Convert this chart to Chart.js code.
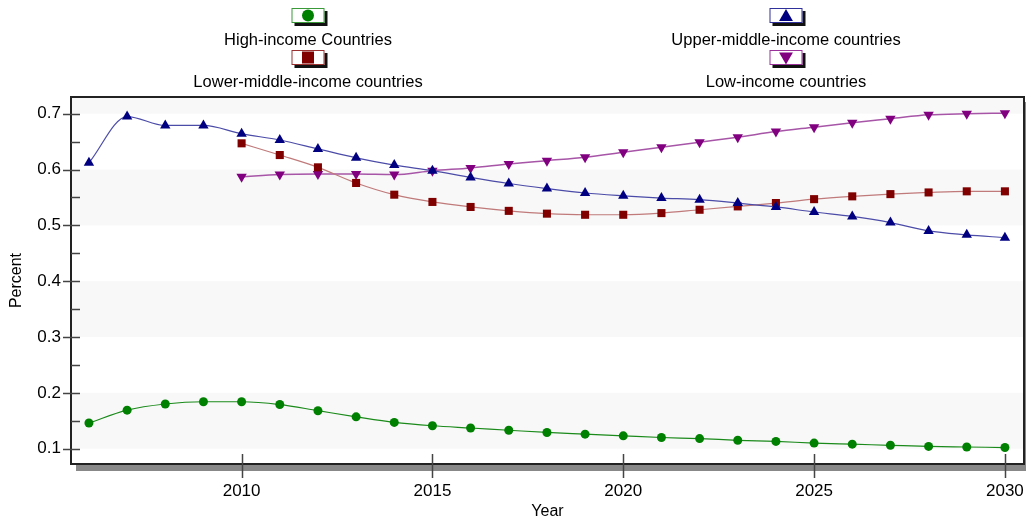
<!DOCTYPE html>
<html>
<head>
<meta charset="utf-8">
<script src="https://cdn.jsdelivr.net/npm/chart.js@4/dist/chart.umd.min.js"></script>
<style>
html, body { margin: 0; padding: 0; background: #fff; }
</style>
</head>
<body>
<canvas id="chart" width="1026" height="518"></canvas>
<script>
// values
const years = [2006, 2007, 2008, 2009, 2010, 2011, 2012, 2013, 2014, 2015, 2016, 2017, 2018,
               2019, 2020, 2021, 2022, 2023, 2024, 2025, 2026, 2027, 2028, 2029, 2030];

const highIncome  = [0.146, 0.169, 0.180, 0.184, 0.184, 0.179, 0.168, 0.157, 0.147, 0.141, 0.137, 0.133, 0.129,
                     0.126, 0.123, 0.120, 0.118, 0.115, 0.113, 0.110, 0.108, 0.106, 0.104, 0.103, 0.102];
const upperMiddle = [0.612, 0.695, 0.679, 0.679, 0.664, 0.653, 0.637, 0.621, 0.608, 0.598, 0.586, 0.575, 0.566,
                     0.558, 0.553, 0.549, 0.546, 0.540, 0.533, 0.524, 0.516, 0.505, 0.490, 0.483, 0.478];
const lowerMiddle = [null, null, null, null, 0.647, 0.626, 0.604, 0.576, 0.555, 0.542, 0.533, 0.526, 0.521,
                     0.519, 0.519, 0.522, 0.528, 0.534, 0.540, 0.547, 0.552, 0.556, 0.559, 0.561, 0.561];
const lowIncome   = [null, null, null, null, 0.587, 0.591, 0.592, 0.592, 0.591, 0.598, 0.603, 0.610, 0.616,
                     0.622, 0.631, 0.640, 0.649, 0.658, 0.668, 0.676, 0.684, 0.691, 0.698, 0.700, 0.701];

const xTicks = [2010, 2015, 2020, 2025, 2030];
const yTicks = [0.1, 0.2, 0.3, 0.4, 0.5, 0.6, 0.7];
const yMinorTicks = [0.15, 0.25, 0.35, 0.45, 0.55, 0.65];

const FONT = "'Liberation Sans', Arial, sans-serif";

function points(vals)
{
	return years.map((yr, i) => ({ x: yr, y: vals[i] })).filter(p => p.y !== null);
}

// legend slots: centre x, box top, marker size in the box
const legendSlots = [
	{ cx: 308, top: 8, r: 6 },
	{ cx: 786, top: 8, r: 8 },
	{ cx: 308, top: 50, r: 8.5 },
	{ cx: 786, top: 50, r: 8 }
];

const framePlugin = {
	id: 'frame',
	beforeDatasetsDraw(chart)
	{
		const { ctx, chartArea: a } = chart;
		const y = chart.scales.y;
		ctx.save();
		ctx.fillStyle = '#fff';
		ctx.fillRect(a.left, a.top, a.right - a.left, a.bottom - a.top);
		ctx.fillStyle = '#f8f8f8';
		const bands = [[0.1, 0.2], [0.3, 0.4], [0.5, 0.6], [0.7, y.max]];
		bands.forEach(b => {
			const y0 = y.getPixelForValue(b[1]);
			const y1 = y.getPixelForValue(b[0]);
			ctx.fillRect(a.left, y0, a.right - a.left, y1 - y0);
		});
		ctx.restore();
	},
	afterDraw(chart)
	{
		const { ctx, chartArea: a } = chart;
		const x = chart.scales.x;
		const y = chart.scales.y;
		ctx.save();

		// shadow under the plot box
		ctx.fillStyle = '#888';
		ctx.fillRect(a.left + 5, a.bottom + 1, a.right - a.left + 1, 6);
		ctx.fillRect(a.right + 1, a.top + 5, 6, a.bottom - a.top + 2);

		// plot box
		ctx.strokeStyle = '#222';
		ctx.lineWidth = 2;
		ctx.strokeRect(a.left, a.top, a.right - a.left, a.bottom - a.top);

		// y ticks
		ctx.strokeStyle = '#444';
		ctx.lineWidth = 1.5;
		ctx.beginPath();
		yTicks.forEach(v => {
			const py = Math.round(y.getPixelForValue(v)) + 0.5;
			ctx.moveTo(a.left - 8, py);
			ctx.lineTo(a.left + 9, py);
		});
		yMinorTicks.forEach(v => {
			const py = Math.round(y.getPixelForValue(v)) + 0.5;
			ctx.moveTo(a.left, py);
			ctx.lineTo(a.left + 9, py);
		});
		// x ticks
		xTicks.forEach(v => {
			const px = Math.round(x.getPixelForValue(v)) + 0.5;
			ctx.moveTo(px, a.bottom - 10);
			ctx.lineTo(px, a.bottom + 14);
		});
		ctx.stroke();

		// legend
		chart.data.datasets.forEach((ds, i) => {
			const slot = legendSlots[i];
			const w = 33, h = 15;
			const bx = slot.cx - w / 2;
			ctx.fillStyle = '#111';
			ctx.fillRect(bx + 3, slot.top + 3, w, h);
			ctx.fillStyle = '#fff';
			ctx.fillRect(bx, slot.top, w, h);
			ctx.strokeStyle = ds.legendBorder;
			ctx.lineWidth = 1;
			ctx.strokeRect(bx + 0.5, slot.top + 0.5, w - 1, h - 1);
			ctx.fillStyle = ds.pointBackgroundColor;
			let my = slot.top + h / 2;
			if (ds.pointStyle === 'triangle') my += ds.pointRotation ? -1 : 1.5;
			Chart.helpers.drawPoint(ctx, {
				pointStyle: ds.pointStyle,
				radius: slot.r,
				rotation: ds.pointRotation || 0,
				borderWidth: 0
			}, slot.cx, my);

			ctx.fillStyle = '#000';
			ctx.font = '16.5px ' + FONT;
			ctx.textAlign = 'center';
			ctx.textBaseline = 'middle';
			ctx.fillText(ds.label, slot.cx, slot.top + 32);
		});
		ctx.restore();
	}
};

const chart = new Chart(document.getElementById('chart'), {
	type: 'line',
	data: {
		datasets: [
			{
				label: 'High-income Countries',
				data: points(highIncome),
				borderColor: '#1a8a1a',
				legendBorder: '#3a9a3a',
				borderWidth: 1.2,
				pointStyle: 'circle',
				pointRadius: 4.5,
				pointBackgroundColor: '#008000',
				pointBorderWidth: 0
			},
			{
				label: 'Upper-middle-income countries',
				data: points(upperMiddle),
				borderColor: '#4b4ba8',
				legendBorder: '#30309a',
				borderWidth: 1.2,
				pointStyle: 'triangle',
				pointRadius: 6,
				pointBackgroundColor: '#000080',
				pointBorderWidth: 0
			},
			{
				label: 'Lower-middle-income countries',
				data: points(lowerMiddle),
				borderColor: '#c07a7a',
				legendBorder: '#9a3030',
				borderWidth: 1.2,
				pointStyle: 'rect',
				pointRadius: 5.7,
				pointBackgroundColor: '#800000',
				pointBorderWidth: 0
			},
			{
				label: 'Low-income countries',
				data: points(lowIncome),
				borderColor: '#a755a7',
				legendBorder: '#9a309a',
				borderWidth: 1.5,
				pointStyle: 'triangle',
				pointRotation: 180,
				pointRadius: 6,
				pointBackgroundColor: '#800080',
				pointBorderWidth: 0
			}
		]
	},
	options: {
		responsive: false,
		animation: false,
		cubicInterpolationMode: 'monotone',
		layout: { autoPadding: false, padding: { top: 97, right: 2, left: 0, bottom: 0 } },
		plugins: {
			legend: { display: false },
			tooltip: { enabled: false }
		},
		scales: {
			x: {
				type: 'linear',
				min: 2005.53,
				max: 2030.5,
				afterBuildTicks: s => { s.ticks = xTicks.map(v => ({ value: v })); },
				afterFit: s => { s.height = 54; s.paddingLeft = 0; s.paddingRight = 0; },
				grid: { display: false, drawTicks: false },
				border: { display: false },
				ticks: {
					padding: 17,
					color: '#000',
					font: { family: FONT, size: 17 },
					maxRotation: 0,
					callback: v => String(v)
				},
				title: {
					display: true,
					text: 'Year',
					color: '#000',
					padding: { top: 0, bottom: -2 },
					font: { family: FONT, size: 16, lineHeight: 1 }
				}
			},
			y: {
				min: 0.0725,
				max: 0.730,
				afterBuildTicks: s => { s.ticks = yTicks.map(v => ({ value: v })); },
				afterFit: s => { s.width = 71; },
				grid: { display: false, drawTicks: false },
				border: { display: false },
				ticks: {
					padding: 10,
					color: '#000',
					font: { family: FONT, size: 17 },
					callback: v => v.toFixed(1)
				},
				title: {
					display: true,
					text: 'Percent',
					color: '#000',
					padding: { top: 9, bottom: 0 },
					font: { family: FONT, size: 16, lineHeight: 1 }
				}
			}
		}
	},
	plugins: [framePlugin]
});
</script>
</body>
</html>
